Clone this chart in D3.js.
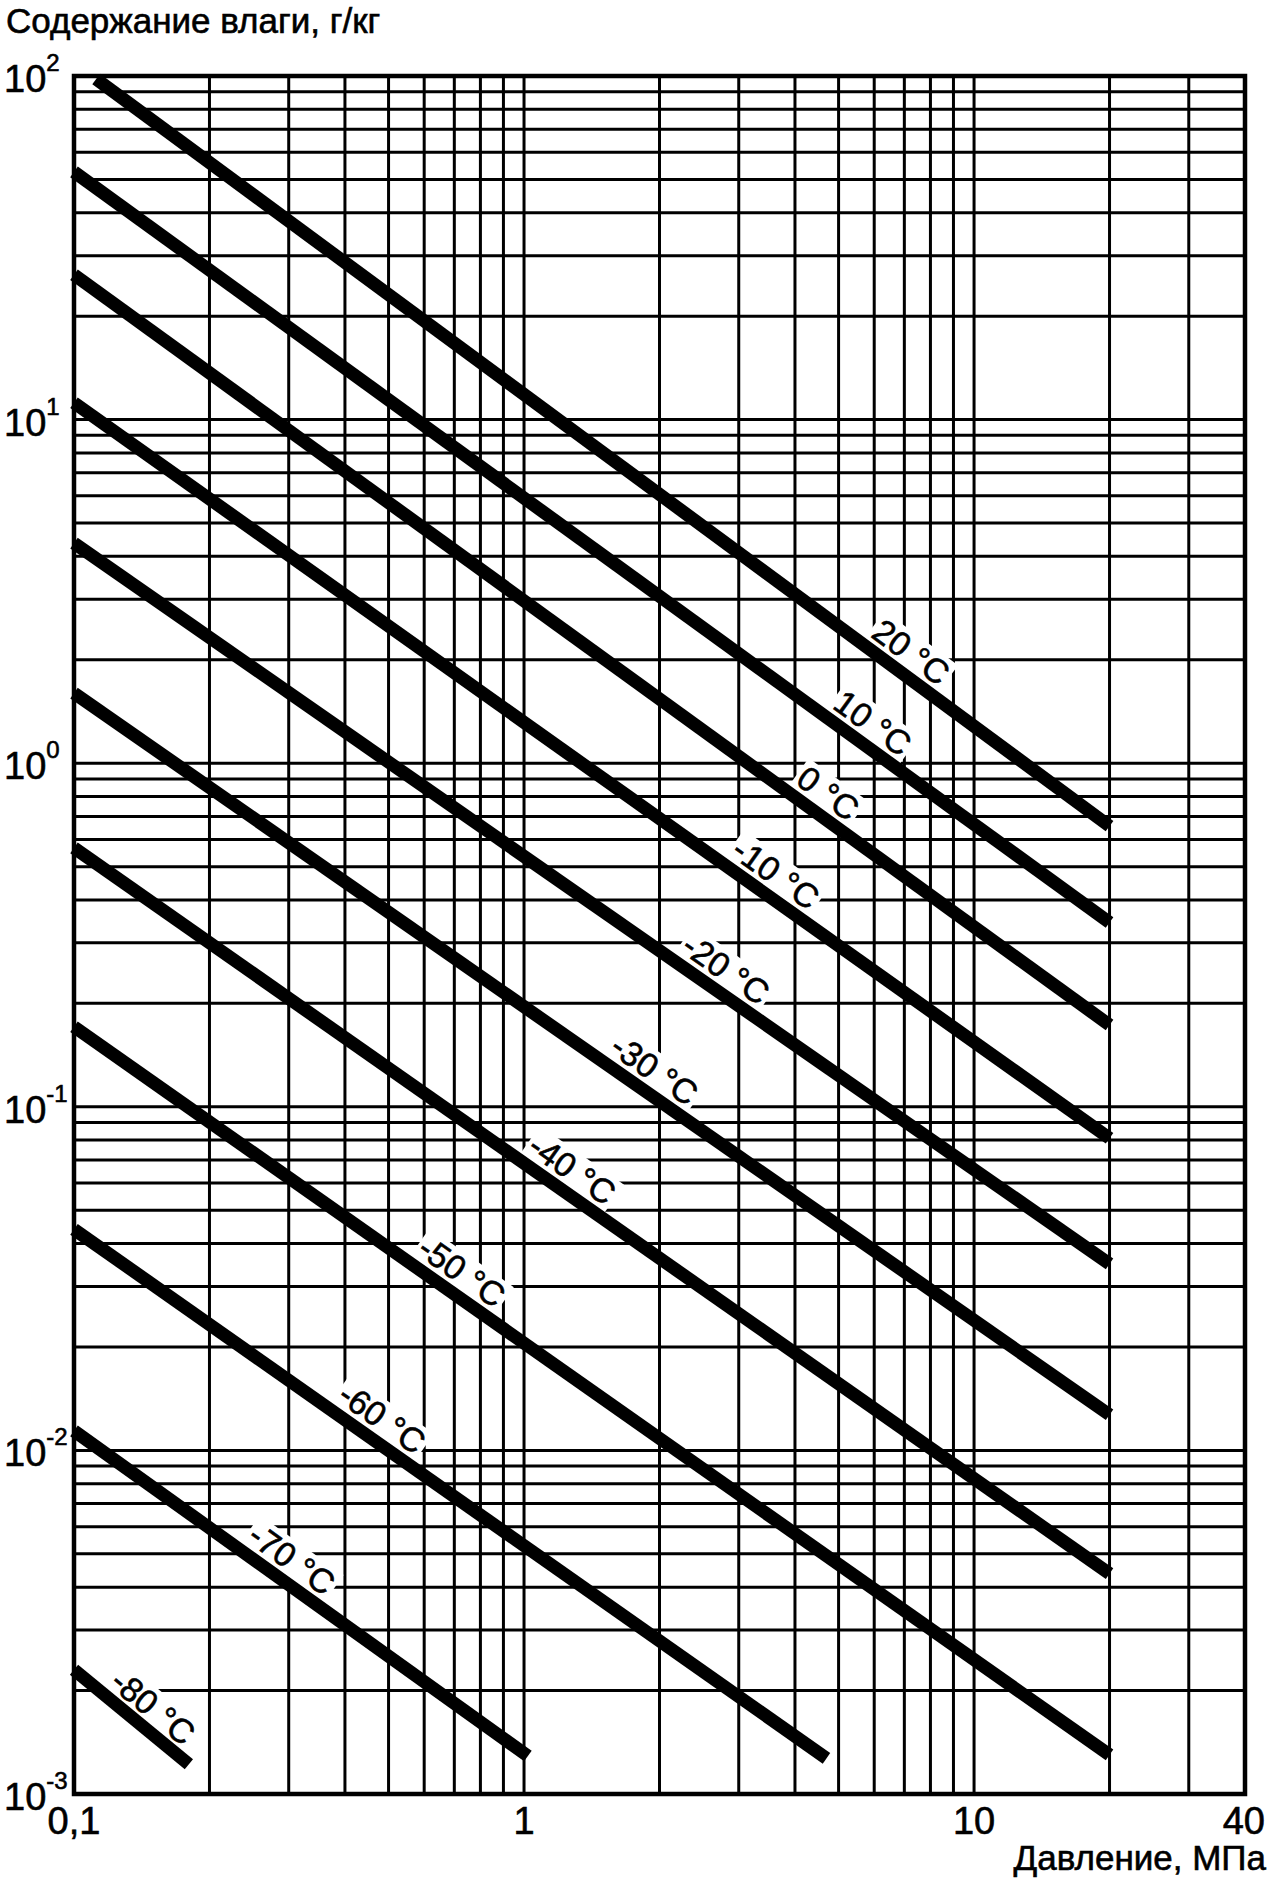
<!DOCTYPE html>
<html>
<head>
<meta charset="utf-8">
<script src="https://cdn.jsdelivr.net/npm/d3@7"></script>
<style>
  body { margin: 0; background: #fff; }
  text { font-family: "Liberation Sans", Arial, sans-serif; fill: #000; stroke: #000; stroke-width: 0.6px; }
</style>
</head>
<body>
<script>
// Isotherms: moisture content (g/kg) against pressure (MPa), both log
const temps    = ["20 °C", "10 °C", "0 °C", "-10 °C", "-20 °C", "-30 °C", "-40 °C", "-50 °C", "-60 °C", "-70 °C", "-80 °C"];
const pStart   = [0.112, 0.1, 0.1, 0.1, 0.1, 0.1, 0.1, 0.1, 0.1, 0.1, 0.1];
const wStart   = [98, 52.6, 26.4, 11.2, 4.37, 1.60, 0.567, 0.171, 0.044, 0.0114, 0.0023];
const pEnd     = [20, 20, 20, 20, 20, 20, 20, 20, 4.7, 1.02, 0.18];
const wEnd     = [0.656, 0.344, 0.173, 0.081, 0.0349, 0.0127, 0.00438, 0.0013, 0.00127, 0.00129, 0.00122];
const labelAtP = [7.25, 5.96, 4.74, 3.63, 2.81, 1.95, 1.28, 0.728, 0.484, 0.305, 0.150];

// tick labels
const xTickValues = [0.1, 1, 10, 40];
const xTickLabels = ["0,1", "1", "10", "40"];
const yTickExp    = [2, 1, 0, -1, -2, -3];

const width = 1271, height = 1884;
const margin = { top: 76, right: 26, bottom: 90, left: 74 };

const svg = d3.select("body").append("svg")
    .attr("width", width)
    .attr("height", height);

svg.append("rect").attr("width", width).attr("height", height).attr("fill", "#fff");

const x = d3.scaleLog()
    .domain([0.1, 40])
    .range([margin.left, width - margin.right]);

const y = d3.scaleLog()
    .domain([1e-3, 1e2])
    .range([height - margin.bottom, margin.top]);

const [x0, x1] = x.range();
const [y0, y1] = y.range();

// grid
const grid = svg.append("g").attr("stroke", "#000").attr("stroke-width", 3);

grid.selectAll(".vx")
  .data(x.ticks())
  .join("line")
    .attr("x1", d => x(d)).attr("x2", d => x(d))
    .attr("y1", y1).attr("y2", y0);

grid.selectAll(".hy")
  .data(y.ticks())
  .join("line")
    .attr("y1", d => y(d)).attr("y2", d => y(d))
    .attr("x1", x0).attr("x2", x1);

// frame
svg.append("rect")
    .attr("x", x0).attr("y", y1)
    .attr("width", x1 - x0).attr("height", y0 - y1)
    .attr("fill", "none")
    .attr("stroke", "#000")
    .attr("stroke-width", 4.5);

// line geometry
const lines = temps.map((t, i) => {
  const ax = x(pStart[i]), ay = y(wStart[i]);
  const bx = x(pEnd[i]), by = y(wEnd[i]);
  const angle = Math.atan2(by - ay, bx - ax) * 180 / Math.PI;
  // point on the straight (log-log) line at the label pressure
  const f = (Math.log(labelAtP[i]) - Math.log(pStart[i])) / (Math.log(pEnd[i]) - Math.log(pStart[i]));
  const lw = Math.exp(Math.log(wStart[i]) + f * (Math.log(wEnd[i]) - Math.log(wStart[i])));
  return { t, ax, ay, bx, by, angle, lx: x(labelAtP[i]), ly: y(lw) - 28 };
});

// label groups (background first so it hides the grid)
const labels = svg.append("g")
  .selectAll("g")
  .data(lines)
  .join("g")
    .attr("transform", d => `translate(${d.lx},${d.ly}) rotate(${d.angle})`);

labels.append("text")
    .attr("text-anchor", "middle")
    .attr("dominant-baseline", "central")
    .attr("font-size", 34)
    .text(d => d.t);

labels.insert("rect", "text")
    .each(function() {
      const bb = this.parentNode.querySelector("text").getBBox();
      d3.select(this)
        .attr("x", bb.x - 3).attr("y", bb.y + 2)
        .attr("width", bb.width + 6).attr("height", bb.height - 4);
    })
    .attr("fill", "#fff");

// isotherm lines
svg.append("g")
  .selectAll("line")
  .data(lines)
  .join("line")
    .attr("x1", d => d.ax).attr("y1", d => d.ay)
    .attr("x2", d => d.bx).attr("y2", d => d.by)
    .attr("stroke", "#000")
    .attr("stroke-width", 13);

// keep label text on top
labels.raise();

// x tick labels
svg.append("g")
  .selectAll("text")
  .data(xTickValues)
  .join("text")
    .attr("x", (d, i) => i === xTickValues.length - 1 ? x(d) + 20 : x(d))
    .attr("y", y0 + 40)
    .attr("text-anchor", (d, i) => i === xTickValues.length - 1 ? "end" : "middle")
    .attr("font-size", 38)
    .text((d, i) => xTickLabels[i]);

// y tick labels (10 with superscript exponent)
const yl = svg.append("g")
  .selectAll("text")
  .data(yTickExp)
  .join("text")
    .attr("x", 4)
    .attr("y", d => y(Math.pow(10, d)) + 16)
    .attr("font-size", 38);

yl.append("tspan").text("10");
yl.append("tspan")
    .attr("font-size", 24)
    .attr("dy", -21)
    .text(d => String(d));

// axis titles
svg.append("text")
    .attr("x", 6).attr("y", 33)
    .attr("font-size", 35)
    .text("Содержание влаги, г/кг");

svg.append("text")
    .attr("x", 1266).attr("y", 1870)
    .attr("text-anchor", "end")
    .attr("font-size", 35)
    .text("Давление, МПа");
</script>
</body>
</html>
